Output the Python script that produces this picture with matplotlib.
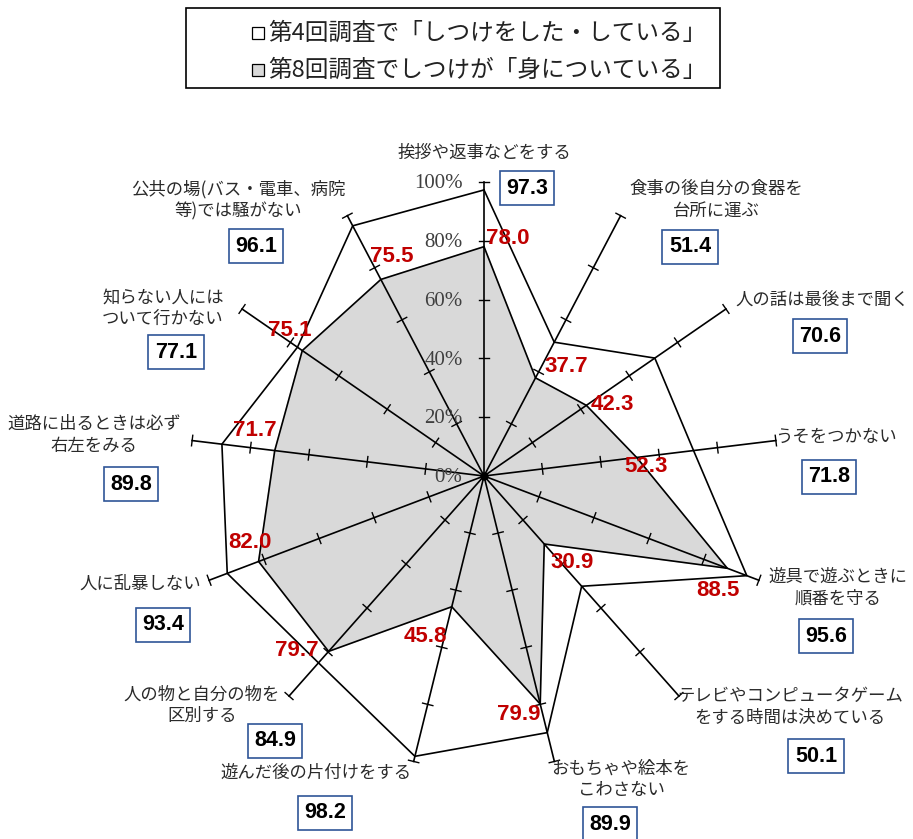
import numpy as np
import matplotlib
matplotlib.use("Agg")
import matplotlib.pyplot as plt
from matplotlib.patches import Rectangle

plt.rcParams['font.family'] = ['Noto Sans CJK JP', 'DejaVu Sans']

# --- data (clockwise from top) ---
categories = [
    "挨拶や返事などをする",
    "食事の後自分の食器を\n台所に運ぶ",
    "人の話は最後まで聞く",
    "うそをつかない",
    "遊具で遊ぶときに\n順番を守る",
    "テレビやコンピュータゲーム\nをする時間は決めている",
    "おもちゃや絵本を\nこわさない",
    "遊んだ後の片付けをする",
    "人の物と自分の物を\n区別する",
    "人に乱暴しない",
    "道路に出るときは必ず\n右左をみる",
    "知らない人には\nついて行かない",
    "公共の場(バス・電車、病院\n等)では騒がない",
]
survey4 = [97.3, 51.4, 70.6, 71.8, 95.6, 50.1, 89.9, 98.2, 84.9, 93.4, 89.8, 77.1, 96.1]
survey8 = [78.0, 37.7, 42.3, 52.3, 88.5, 30.9, 79.9, 45.8, 79.7, 82.0, 71.7, 75.1, 75.5]
tick_vals = [0, 20, 40, 60, 80, 100]
legend_labels = ["第4回調査で「しつけをした・している」", "第8回調査でしつけが「身についている」"]

# --- text placement (pixel positions in the 913x839 image) ---
cat_pos = [(484, 153), (716, 200), (822, 300), (836, 437), (838, 588), (790, 707),
           (621, 779), (316, 773), (202, 705), (140, 584), (94, 435), (163, 308), (238, 200)]
box_pos = [(527, 188), (690, 247), (820, 336), (829, 477), (826, 636), (816, 756),
           (610, 824), (325, 813), (275, 741), (163, 625), (131, 484), (176, 352), (256, 246)]
red_pos = [(508, 239), (566, 367), (612, 404), (646, 466), (718, 590), (572, 563),
           (519, 714), (425, 636), (297, 650), (250, 543), (255, 430), (290, 330), (392, 256)]

W, H = 913, 839
CX, CY, S = 484, 476, 2.94   # centre and px per percent


def px(x, y):
    return (x - CX) / S, (CY - y) / S


fig = plt.figure(figsize=(W / 100, H / 100), dpi=100)
ax = fig.add_axes([0, 0, 1, 1])
ax.set_xlim(-CX / S, (W - CX) / S)
ax.set_ylim(-(H - CY) / S, CY / S)
ax.axis("off")

n = len(categories)
ang = np.arange(n) * 2 * np.pi / n
ux, uy = np.sin(ang), np.cos(ang)

v4 = np.array(survey4)
v8 = np.array(survey8)
x4, y4 = np.append(v4 * ux, v4[0] * ux[0]), np.append(v4 * uy, v4[0] * uy[0])
x8, y8 = np.append(v8 * ux, v8[0] * ux[0]), np.append(v8 * uy, v8[0] * uy[0])

ax.fill(x8, y8, color="#D9D9D9", zorder=1)

# spokes with tick marks
for i in range(n):
    ax.plot([0, 100 * ux[i]], [0, 100 * uy[i]], color="black", lw=1.2, zorder=2)
    for t in tick_vals[1:]:
        bx, by = t * ux[i], t * uy[i]
        px_, py_ = -uy[i] * 1.8, ux[i] * 1.8
        ax.plot([bx - px_, bx + px_], [by - py_, by + py_], color="black", lw=1.0, zorder=2)
ax.plot(0, 0, "o", color="black", ms=5, zorder=3)

ax.plot(x8, y8, color="black", lw=1.2, zorder=3)
ax.plot(x4, y4, color="black", lw=1.2, zorder=3)

# radial tick labels
for t in tick_vals:
    ax.text(-7.3, t - 0.6, f"{t}%", ha="right", va="center", fontsize=15,
            family="Liberation Serif", color="#404040", zorder=4)

# category labels
for lab, (x, y) in zip(categories, cat_pos):
    tx, ty = px(x, y)
    ax.text(tx, ty, lab, ha="center", va="center", fontsize=12.5, color="#2a2a2a",
            linespacing=1.25, zorder=5)

# boxed values (4th survey)
for v, (x, y) in zip(survey4, box_pos):
    tx, ty = px(x, y)
    ax.text(tx, ty, f"{v:.1f}", ha="center", va="center", fontsize=15.5, fontweight="bold",
            family="Liberation Sans", color="black", zorder=5,
            bbox=dict(boxstyle="square,pad=0.3", fc="white", ec="#2F5597", lw=1.2))

# red values (8th survey)
for v, (x, y) in zip(survey8, red_pos):
    tx, ty = px(x, y)
    ax.text(tx, ty, f"{v:.1f}", ha="center", va="center", fontsize=16, fontweight="bold",
            family="Liberation Sans", color="#C00000", zorder=5)

# legend box
lx0, ly0 = px(186, 88)
lx1, ly1 = px(720, 8)
ax.add_patch(Rectangle((lx0, ly0), lx1 - lx0, ly1 - ly0, fc="white", ec="black", lw=1.2, zorder=5))
for (lab, fc, yy) in zip(legend_labels, ["white", "#D9D9D9"], [33, 70]):
    mx, my = px(258, yy)
    ax.add_patch(Rectangle((mx - 1.9, my - 1.9), 3.8, 3.8, fc=fc, ec="black", lw=0.9, zorder=6))
    tx, ty = px(268, yy)
    ax.text(tx, ty, lab, ha="left", va="center", fontsize=17, color="#222222", zorder=6)

fig.savefig("out.png", dpi=100)
